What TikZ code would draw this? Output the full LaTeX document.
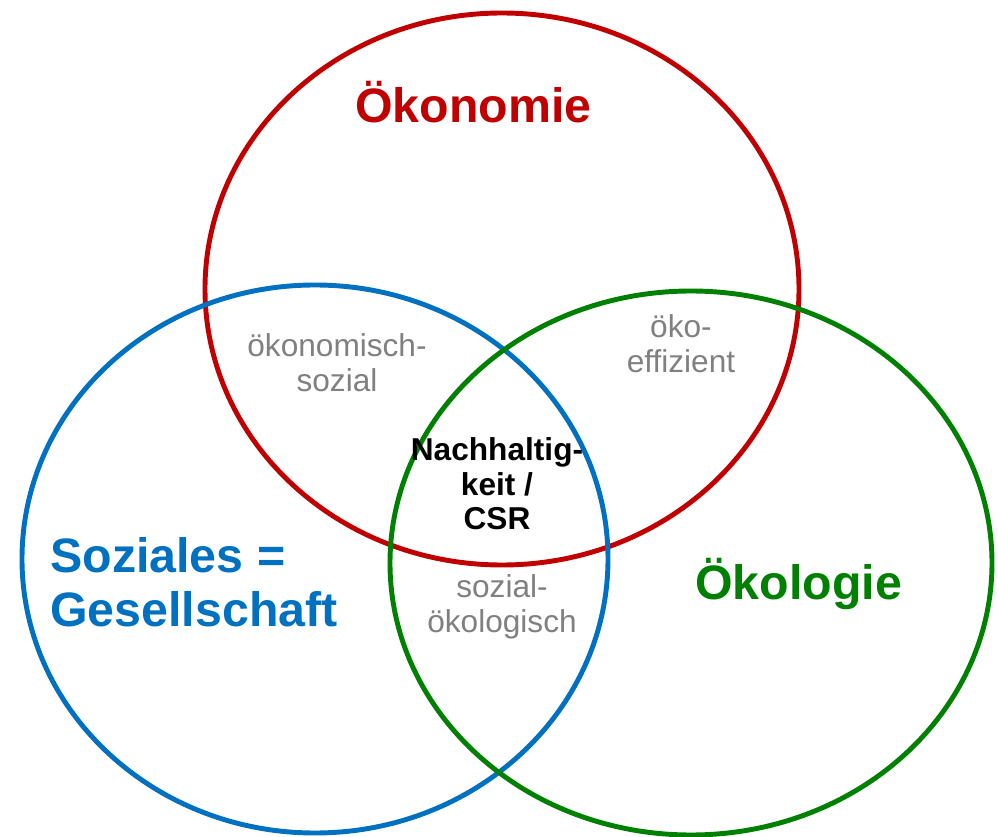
\documentclass[tikz,border=0pt]{standalone}
\usepackage{fontspec}
\setmainfont{Liberation Sans}
\usetikzlibrary{positioning,shapes.geometric}
\definecolor{oekonomie}{HTML}{C00000}
\definecolor{soziales}{HTML}{0070C0}
\definecolor{oekologie}{HTML}{008000}
\definecolor{overlap}{HTML}{808080}

\begin{document}
\begin{tikzpicture}[x=0.02cm, y=-0.02cm,
        sphere/.style={ellipse, draw=#1, line width=2.8pt, inner sep=0pt, outer sep=0pt},
        pillar/.style={font=\fontsize{27.5}{31.2}\selectfont\bfseries, text=#1, align=left, inner sep=0pt, anchor=base west},
        pairlabel/.style={font=\fontsize{18}{20.4}\selectfont, text=overlap, align=center, inner sep=0pt, anchor=base},
        corelabel/.style={font=\fontsize{18}{19.8}\selectfont\bfseries, align=center, inner sep=0pt, anchor=base},
      ]
      \useasboundingbox (0,0) rectangle (998,837);

      % the three circles
      \node[sphere=oekonomie, minimum width=594*0.02cm, minimum height=552*0.02cm] (eco) at (502,289) {};
      \node[sphere=soziales, minimum width=586*0.02cm, minimum height=548*0.02cm] (soc) at (315,559) {};
      \node[sphere=oekologie, minimum width=602*0.02cm, minimum height=544*0.02cm] (env) at (691,563) {};

      \node[pillar=oekonomie] (ecotitle) at (355,123) {Ökonomie};
      \node[pillar=soziales] (soctitle) at (50,627) {Soziales =\\Gesellschaft};
      \node[pillar=oekologie] (envtitle) at (695,600) {Ökologie};

      % overlaps (anchored at the last line)
      \node[pairlabel] (ecosoc) at (337,392) {ökonomisch-\\sozial};
      \node[pairlabel] (ecoenv) at (681,373) {öko-\\effizient};
      \node[pairlabel] (socenv) at (502,633) {sozial-\\ökologisch};
      \node[corelabel] (core) at (497,530) {Nachhaltig-\\keit /\\CSR};
    \end{tikzpicture}
\end{document}
